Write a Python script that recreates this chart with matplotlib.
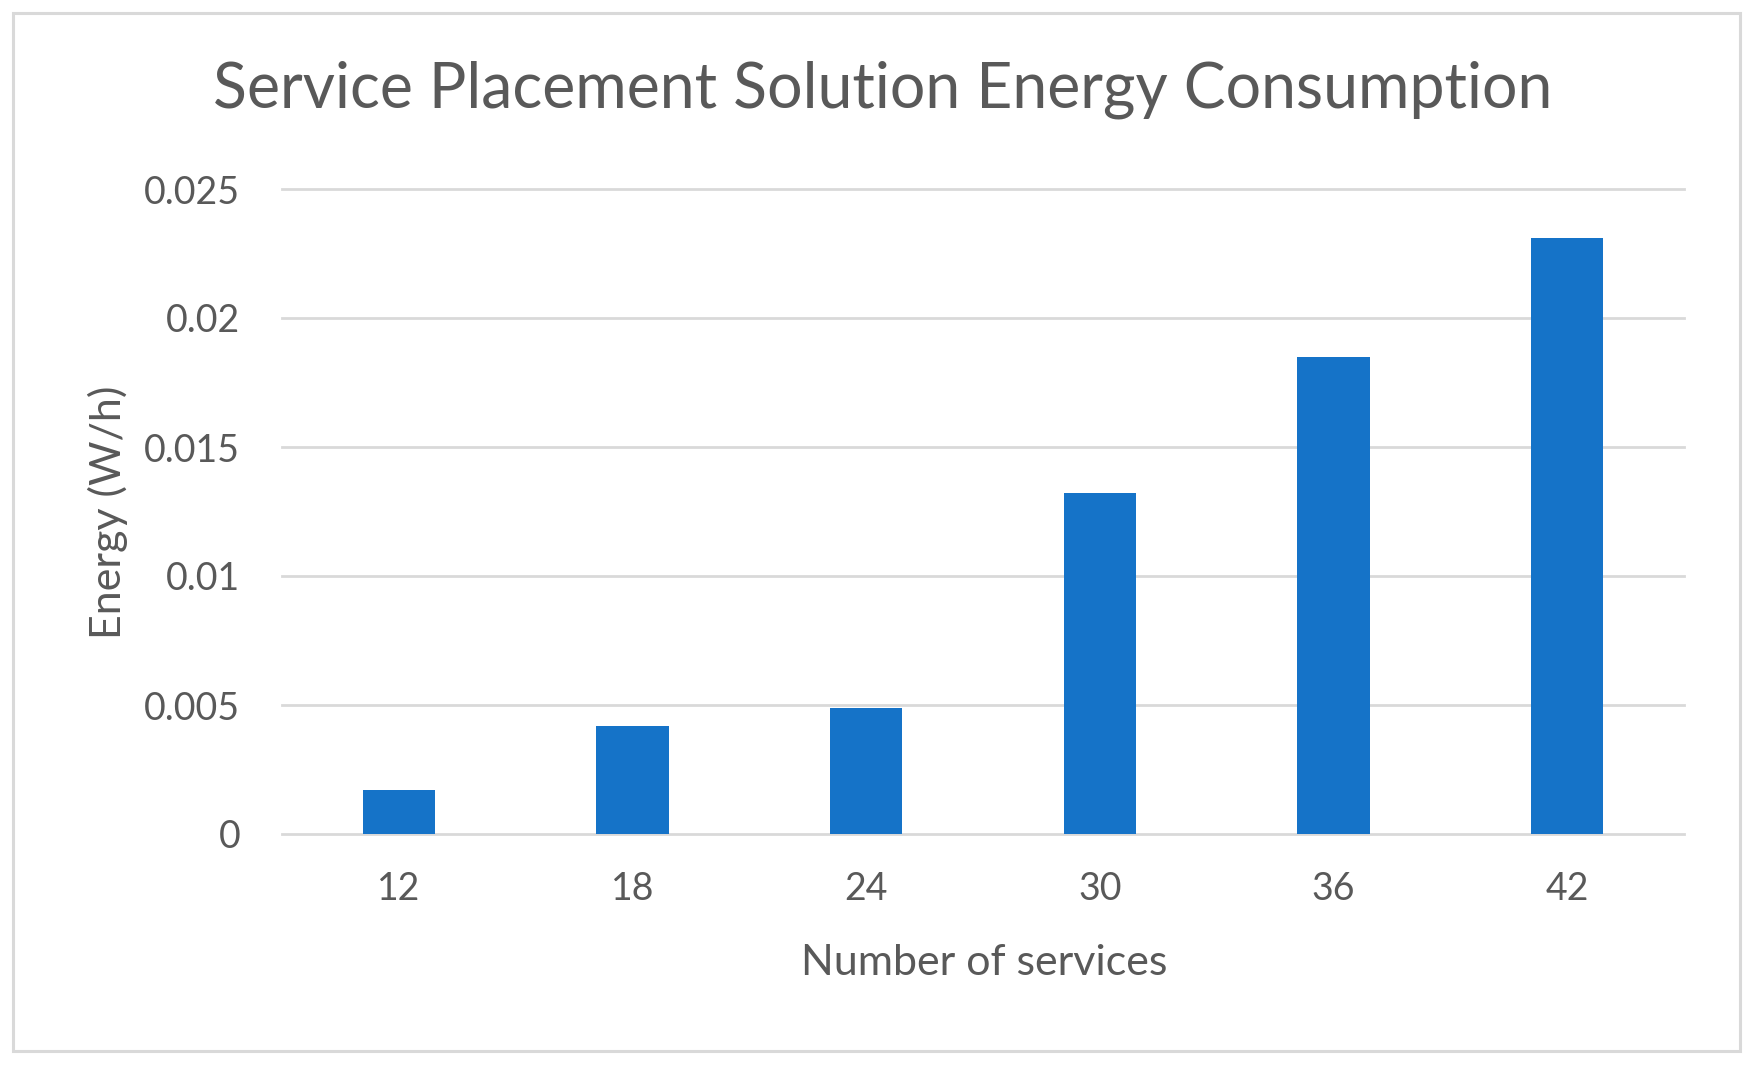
import matplotlib.pyplot as plt
from matplotlib.patches import Rectangle

# data
services = ['12', '18', '24', '30', '36', '42']
energy = [0.0017, 0.0042, 0.0049, 0.0132, 0.0185, 0.0231]
yticks = [0, 0.005, 0.01, 0.015, 0.02, 0.025]
ytick_labels = ['0', '0.005', '0.01', '0.015', '0.02', '0.025']

txt = '#595959'
grid = '#d9d9d9'
bar_col = '#1573c8'

plt.rcParams['font.family'] = ['Lato', 'DejaVu Sans']

fig = plt.figure(figsize=(17.57, 10.68), dpi=100)
ax = fig.add_axes([282 / 1757, 1 - 834 / 1068, 1402 / 1757, 645 / 1068])

ax.bar(range(len(services)), energy, width=0.31, color=bar_col, zorder=3)

ax.set_xlim(-0.5, len(services) - 0.5)
ax.set_ylim(0, 0.025)
ax.set_yticks(yticks)
ax.set_yticklabels(ytick_labels)
ax.set_xticks(range(len(services)))
ax.set_xticklabels(services)

## excel style grid
for y in yticks:
    ax.axhline(y, color=grid, lw=2, zorder=1, clip_on=False)

for s in ax.spines.values():
    s.set_visible(False)
ax.tick_params(axis='both', length=0, colors=txt, labelsize=27)
ax.tick_params(axis='y', pad=30)
ax.tick_params(axis='x', pad=27)

ax.set_xlabel('Number of services', fontsize=31, color=txt)
ax.xaxis.set_label_coords(0.5007, -0.171)
ax.set_ylabel('Energy (W/h)', fontsize=31, color=txt)
ax.yaxis.set_label_coords(-0.11, 0.498)

fig.text(883 / 1757, 1 - 90 / 1068, 'Service Placement Solution Energy Consumption',
         ha='center', va='center', fontsize=45, color=txt)

## light frame round the whole chart
fig.patches.append(Rectangle((13 / 1757, 1 - 1051 / 1068), 1727 / 1757, 1038 / 1068,
                             transform=fig.transFigure, fill=False, edgecolor=grid, lw=2.2))

fig.savefig('out.png', dpi=100)
